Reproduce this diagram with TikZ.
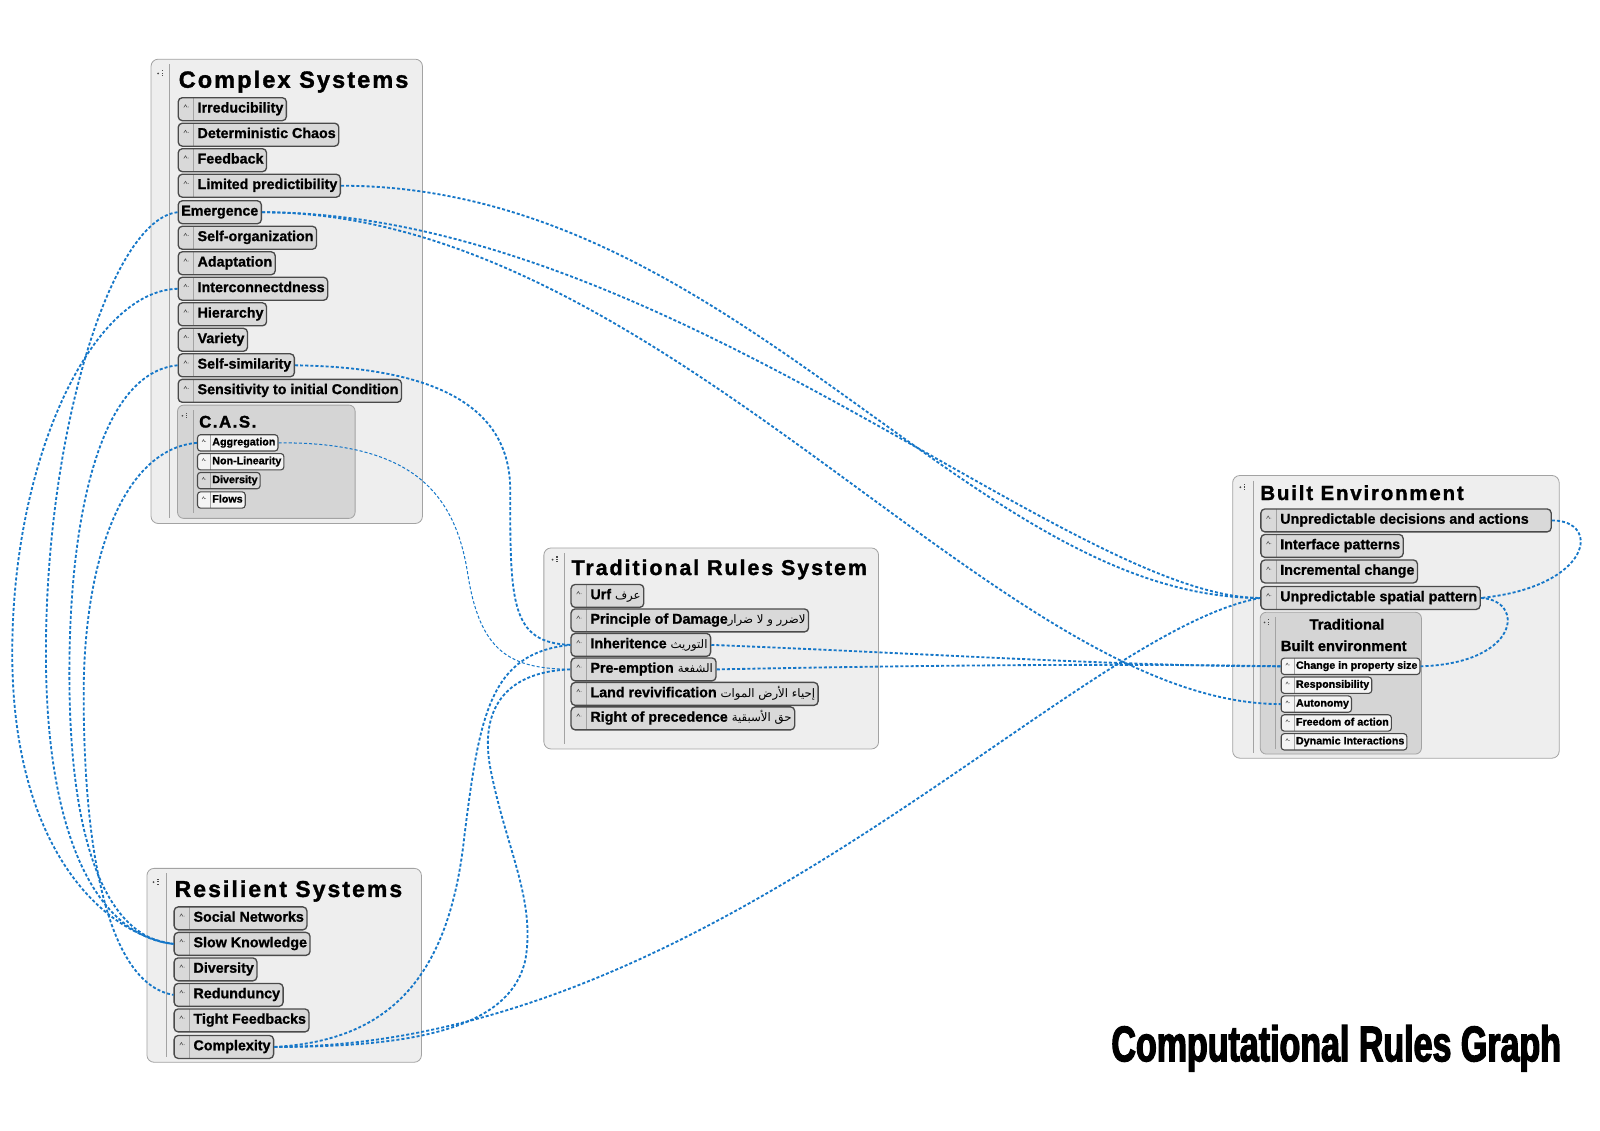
\documentclass[tikz,border=0pt]{standalone}
\usepackage{fontspec}
\setmainfont[FakeBold=1]{Liberation Sans}
\newfontfamily\headfont[LetterSpace=9,FakeBold=1.5]{Liberation Sans}
\newfontfamily\arabicfont[Script=Arabic]{DejaVu Sans}
\newfontfamily\graphfont[FakeStretch=0.68,FakeBold=2.5]{Liberation Sans}
\TeXXeTstate=1
\newcommand\artext[1]{{\arabicfont\mdseries\fontsize{11.5}{11.5}\selectfont\beginR #1\endR}}

\definecolor{linkblue}{RGB}{22,119,200}
\definecolor{groupfill}{HTML}{EEEEEE}
\definecolor{groupline}{HTML}{A3A3A3}
\definecolor{subfill}{HTML}{D5D5D5}
\definecolor{itemfill}{HTML}{D9D9D9}
\definecolor{itemline}{HTML}{4A4A4A}
\definecolor{leaffill}{HTML}{F4F4F4}

\tikzset{groupbox/.style={draw=groupline, fill=groupfill, rounded corners=7pt, line width=0.8pt},
         subbox/.style={draw=groupline, fill=subfill, rounded corners=6pt, line width=0.8pt},
         groupsep/.style={draw=groupline, line width=0.7pt},
         grouptitle/.style={anchor=base west, inner sep=0pt,
           font=\headfont\bfseries\fontsize{#1}{#1}\selectfont},
         grouptitle/.default={23},
         plainitem/.style={anchor=west, draw=itemline, fill=itemfill, line width=1.3pt,
           rounded corners=4pt, inner xsep=3pt, inner ysep=4.5pt,
           text height=10pt, text depth=3.5pt, font=\bfseries\fontsize{14}{14}\selectfont},
         item/.style={plainitem, execute at begin node={\hspace*{16pt}},
           path picture={
             \draw[groupline, line width=0.6pt]
               ([xshift=15pt]path picture bounding box.north west) --
               ([xshift=15pt]path picture bounding box.south west);
             \draw[itemline, line width=0.5pt, rounded corners=0pt]
               ([xshift=5.5pt,yshift=-9.5pt]path picture bounding box.north west)
               -- ++(1.6pt,2.6pt) -- ++(1.6pt,-2.6pt);
             \fill[itemline] ([xshift=9.8pt,yshift=-9pt]path picture bounding box.north west) circle (0.4pt);}},
         leaf/.style={anchor=west, draw=itemline, fill=leaffill, line width=1.1pt,
           rounded corners=3pt, inner xsep=2.5pt, inner ysep=3pt,
           text height=7.5pt, text depth=2.5pt, font=\bfseries\fontsize{10.5}{10.5}\selectfont,
           execute at begin node={\hspace*{12pt}},
           path picture={
             \draw[groupline, line width=0.5pt]
               ([xshift=12.5pt]path picture bounding box.north west) --
               ([xshift=12.5pt]path picture bounding box.south west);
             \draw[itemline, line width=0.45pt, rounded corners=0pt]
               ([xshift=4.5pt,yshift=-7pt]path picture bounding box.north west)
               -- ++(1.3pt,2.2pt) -- ++(1.3pt,-2.2pt);
             \fill[itemline] ([xshift=8pt,yshift=-6.6pt]path picture bounding box.north west) circle (0.35pt);}},
         groupicon/.pic={\fill[itemline] (-2.5,0.5) circle (1);
                         \fill[itemline] (1.2,-2.8) rectangle (2.4,-1.6);
                         \fill[itemline] (1.2,-0.4) rectangle (2.4,0.8);
                         \fill[itemline] (1.2,2) rectangle (2.4,3.2);},
         rulelink/.style={draw=linkblue, line width=1.8pt, dash pattern=on 3pt off 2pt},
         thinlink/.style={rulelink, line width=1pt}}

\begin{document}
\begin{tikzpicture}[x=1pt, y=-1pt]
  \useasboundingbox (0,0) rectangle (1568,1108);

  % complex systems
  \draw[groupbox] (148,58) rectangle (414,513);
  \draw[groupsep] (166,63) -- (166,508);
  \pic at (157.5,71.5) {groupicon};
  \node[grouptitle] (complextitle) at (175,86) {Complex Systems};
  \node[item] (irreducibility) at (174,107) {Irreducibility};
  \node[item] (chaos) at (174,132) {Deterministic Chaos};
  \node[item] (feedback) at (174,157) {Feedback};
  \node[item] (limited) at (174,182) {Limited predictibility};
  \node[plainitem] (emergence) at (174,208) {Emergence};
  \node[item] (selforg) at (174,233) {Self-organization};
  \node[item] (adaptation) at (174,258) {Adaptation};
  \node[item] (interconnect) at (174,283) {Interconnectdness};
  \node[item] (hierarchy) at (174,308) {Hierarchy};
  \node[item] (variety) at (174,333) {Variety};
  \node[item] (selfsim) at (174,358) {Self-similarity};
  \node[item] (sensitivity) at (174,383) {Sensitivity to initial Condition};

  \draw[subbox] (174,397) rectangle (348,508);
  \draw[groupsep] (189,402) -- (189,503);
  \pic[scale=0.9] at (181,407) {groupicon};
  \node[grouptitle=16.5] (castitle) at (195,419) {C.A.S.};
  \node[leaf] (aggregation) at (193,434) {Aggregation};
  \node[leaf] (nonlinearity) at (193,452.5) {Non-Linearity};
  \node[leaf, fill=itemfill] (diversitycas) at (193,471) {Diversity};
  \node[leaf] (flows) at (193,490) {Flows};

  % traditional rules
  \draw[groupbox] (533,537) rectangle (861,734);
  \draw[groupsep] (553,542) -- (553,729);
  \pic at (544,548) {groupicon};
  \node[grouptitle=21] (rulestitle) at (560,563.5) {Traditional Rules System};
  \node[item] (urf) at (559,584) {Urf \artext{عرف}};
  \node[item] (damage) at (559,608) {Principle of Damage\artext{لاضرر و لا ضرار}};
  \node[item] (inheritence) at (559,632) {Inheritence \artext{التوريث}};
  \node[item] (preemption) at (559,656) {Pre-emption \artext{الشفعة}};
  \node[item] (revivification) at (559,680) {Land revivification \artext{إحياء الأرض الموات}};
  \node[item] (precedence) at (559,704) {Right of precedence \artext{حق الأسبقية}};

  % built environment
  \draw[groupbox] (1208,466) rectangle (1528,743);
  \draw[groupsep] (1228,471) -- (1228,738);
  \pic at (1218,477) {groupicon};
  \node[anchor=base west, inner sep=0pt, font=\headfont\bfseries\fontsize{20}{20}\selectfont]
    (builttitle) at (1235,490) {Built Environment};
  \node[item] (decisions) at (1235,510) {Unpredictable decisions and actions\hspace*{19pt}};
  \node[item] (interface) at (1235,535) {Interface patterns};
  \node[item] (incremental) at (1235,560) {Incremental change};
  \node[item] (usp) at (1235,586) {Unpredictable spatial pattern};

  \draw[subbox] (1235,600) rectangle (1393,739);
  \draw[groupsep] (1250,605) -- (1250,734);
  \pic[scale=0.9] at (1241.5,609.5) {groupicon};
  \node[anchor=base, inner sep=0pt, font=\bfseries\fontsize{14.5}{14.5}\selectfont]
    (tradtitle) at (1320,617) {Traditional};
  \node[anchor=base west, inner sep=0pt, font=\bfseries\fontsize{14.5}{14.5}\selectfont]
    (tradtitlebis) at (1255,638) {Built environment};
  \node[leaf] (propsize) at (1255,653) {Change in property size};
  \node[leaf] (responsibility) at (1255,671.5) {Responsibility};
  \node[leaf] (autonomy) at (1255,690) {Autonomy};
  \node[leaf] (freedom) at (1255,708.5) {Freedom of action};
  \node[leaf] (dynamic) at (1255,727) {Dynamic Interactions};

  % resilient systems
  \draw[groupbox] (144,851) rectangle (413,1041);
  \draw[groupsep] (163,856) -- (163,1036);
  \pic at (153,864) {groupicon};
  \node[grouptitle=22.5] (resilienttitle) at (171,879) {Resilient Systems};
  \node[item] (social) at (170,900) {Social Networks};
  \node[item] (slowknowledge) at (170,925) {Slow Knowledge};
  \node[item] (diversityres) at (170,950) {Diversity};
  \node[item] (redunduncy) at (170,975) {Redunduncy};
  \node[item] (tight) at (170,1000) {Tight Feedbacks};
  \node[item] (complexity) at (170,1026) {Complexity};

  \node[anchor=base east, inner sep=0pt, font=\graphfont\bfseries\fontsize{49}{49}\selectfont]
    (graphtitle) at (1530,1040) {Computational Rules Graph};

  % links, left side
  \draw[rulelink] (emergence.west) .. controls (110,215) and (45,420) .. (45,640)
    .. controls (45,830) and (100,918) .. (slowknowledge.west);
  \draw[rulelink] (interconnect.west) .. controls (90,285) and (12,450) .. (12,640)
    .. controls (12,830) and (100,915) .. (slowknowledge.west);
  \draw[rulelink] (selfsim.west) .. controls (100,365) and (68,500) .. (68,660)
    .. controls (68,840) and (110,920) .. (slowknowledge.west);
  \draw[rulelink] (aggregation.west) .. controls (120,440) and (82,550) .. (82,680)
    .. controls (82,850) and (110,965) .. (redunduncy.west);

  % links to the rules
  \draw[rulelink] (selfsim.east) .. controls (430,360) and (500,400) .. (500,480)
    .. controls (500,590) and (500,630) .. (inheritence.west);
  \draw[thinlink] (aggregation.east) .. controls (400,433) and (445,480) .. (458,560)
    .. controls (470,640) and (500,655) .. (preemption.west);
  \draw[rulelink] (complexity.east) .. controls (380,1020) and (440,960) .. (455,820)
    .. controls (470,700) and (480,640) .. (inheritence.west);
  \draw[rulelink] (complexity.east) .. controls (400,1026) and (500,1010) .. (515,940)
    .. controls (525,880) and (495,830) .. (480,750)
    .. controls (470,690) and (500,658) .. (preemption.west);

  % links to the built environment
  \draw[rulelink] (limited.east) .. controls (720,182) and (950,586) .. (usp.west);
  \draw[rulelink] (emergence.east) .. controls (650,208) and (1050,586) .. (usp.west);
  \draw[rulelink] (emergence.east) .. controls (650,208) and (980,690) .. (autonomy.west);
  \draw[rulelink] (complexity.east) .. controls (700,1026) and (1050,620) .. (usp.west);
  \draw[rulelink] (inheritence.east) .. controls (900,640) and (1100,653) .. (propsize.west);
  \draw[rulelink] (preemption.east) .. controls (900,652) and (1100,650) .. (propsize.west);
  \draw[rulelink] (decisions.east) .. controls (1570,510) and (1560,575) .. (usp.east);
  \draw[rulelink] (usp.east) .. controls (1495,588) and (1490,650) .. (propsize.east);
\end{tikzpicture}
\end{document}
